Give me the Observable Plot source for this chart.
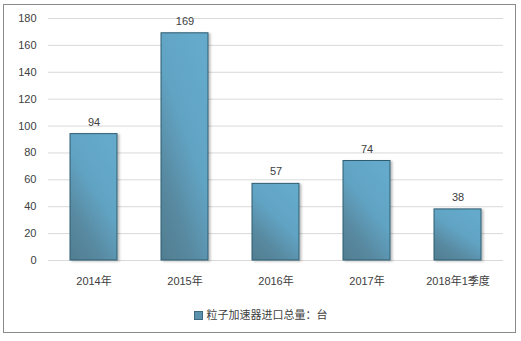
<!DOCTYPE html>
<html><head><meta charset="utf-8">
<script src="https://cdn.jsdelivr.net/npm/d3@7"></script>
<script src="https://cdn.jsdelivr.net/npm/@observablehq/plot@0.6"></script>
<style>
body{margin:0;background:#fff;font-family:"Liberation Sans","Noto Sans CJK SC",sans-serif;}
#frame{position:absolute;left:3px;top:4px;width:513px;height:329px;border:1px solid #8a8a8a;box-sizing:border-box;}
#chart{position:absolute;left:0;top:0;}
#legend{position:absolute;left:0;top:306px;width:521px;text-align:center;font-size:11px;color:#404040;}
#legend .sw{display:inline-block;width:7px;height:7px;background:#5a92ad;border:1px solid #3d6a80;vertical-align:middle;margin-right:4px;position:relative;top:-1px;}
</style></head>
<body>
<div id="frame"></div>
<div id="chart"></div>
<div id="legend"><span class="sw"></span><span>粒子加速器进口总量：台</span></div>
<script>
const categories = ["2014年","2015年","2016年","2017年","2018年1季度"];
const values = [94,169,57,74,38];
const yTicks = [0,20,40,60,80,100,120,140,160,180];
const seriesName = "粒子加速器进口总量：台";

const data = categories.map((c,i)=>({cat:c, v:values[i]}));

const plot = Plot.plot({
  width:521, height:300,
  marginLeft:48, marginRight:18, marginTop:18, marginBottom:40,
  style:{fontFamily:'"Liberation Sans","Noto Sans CJK SC",sans-serif', fontSize:"11px", color:"#404040", background:"transparent"},
  x:{domain:categories, paddingInner:0.48, paddingOuter:0.24, label:null, tickSize:0, tickPadding:17},
  y:{domain:[0,180], ticks:yTicks, label:null, tickSize:0, tickPadding:12},
  marks:[
    () => {
      const s = d3.create("svg:defs");
      const g = s.append("linearGradient").attr("id","barGrad").attr("x1","0.1").attr("y1","1").attr("x2","0.7").attr("y2","0");
      g.append("stop").attr("offset","0").attr("stop-color","#527f93");
      g.append("stop").attr("offset","0.25").attr("stop-color","#5889a0");
      g.append("stop").attr("offset","0.6").attr("stop-color","#61a3c3");
      g.append("stop").attr("offset","1").attr("stop-color","#65aacb");
      const f = s.append("filter").attr("id","sh").attr("x","-20%").attr("y","-20%").attr("width","150%").attr("height","150%");
      f.append("feDropShadow").attr("dx",2).attr("dy",1).attr("stdDeviation",1.2).attr("flood-color","#000").attr("flood-opacity",0.25);
      return s.node();
    },
    Plot.gridY(yTicks, {stroke:"#d9d9d9", strokeOpacity:1}),
    Plot.barY(data, {x:"cat", y:"v", fill:"url(#barGrad)", stroke:"#2f5c70", strokeWidth:1}),
    Plot.text(data, {x:"cat", y:"v", text:d=>String(d.v), dy:-12, fill:"#404040", fontSize:11}),
  ]
});
plot.querySelectorAll("g[aria-label='bar'] rect").forEach(r=>r.setAttribute("filter","url(#sh)"));
document.getElementById("chart").appendChild(plot);
</script>
</body></html>
